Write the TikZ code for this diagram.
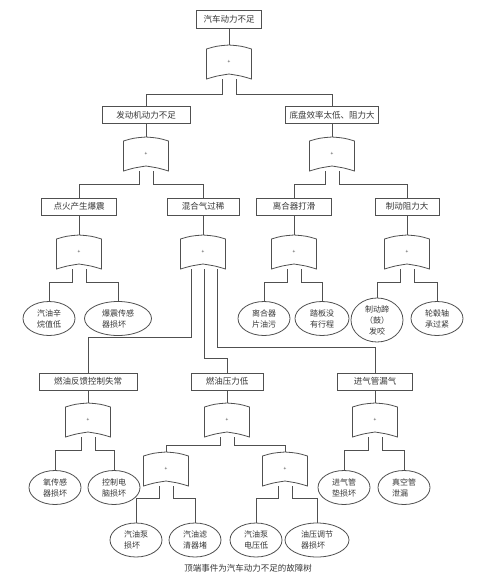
\documentclass[tikz,border=0pt]{standalone}
\usepackage{fontspec}
\setmainfont{Noto Sans CJK SC}
\usetikzlibrary{shapes.geometric,calc,backgrounds}
\definecolor{ln}{RGB}{80,80,80}
\definecolor{tx}{RGB}{55,55,55}
\tikzset{
  conn/.style={draw=ln, line width=0.8pt},
  evbox/.style={draw=ln, line width=0.8pt, rectangle, minimum height=17pt, inner sep=0pt, text=tx, font=\fontsize{8.5}{10}\selectfont},
  basic/.style={draw=ln, line width=0.8pt, ellipse, minimum width=52pt, minimum height=34pt, inner sep=0pt, text=tx, align=center, font=\fontsize{8}{11}\selectfont},
  gate/.style={minimum width=45pt, minimum height=34pt, inner sep=0pt, text=tx, font=\fontsize{5}{5}\selectfont},
  gateline/.style={draw=ln, line width=0.8pt, fill=white},
  caption/.style={text=tx, font=\fontsize{8.5}{10}\selectfont}
}
\newcommand\gatenode[3]{%
  \draw[gateline] (#2-22.5,#3+4) .. controls (#2-12.5,#3+1) .. (#2,#3) .. controls (#2+12.5,#3+1) .. (#2+22.5,#3+4) -- (#2+22.5,#3+34) .. controls (#2+12.5,#3+31) .. (#2,#3+29) .. controls (#2-12.5,#3+31) .. (#2-22.5,#3+34) -- cycle;
  \node[gate] (#1) at (#2,#3+17) {+};}
\begin{document}
\begin{tikzpicture}[x=1pt,y=-1pt]
\begin{scope}[on background layer]
  \fill[white] (0,0) rectangle (500,581);
\end{scope}
\useasboundingbox (0,0) rectangle (500,581);

% events (boxes)
\node[evbox, minimum width=65pt, minimum height=18pt] (b0) at (229,19) {汽车动力不足};
\node[evbox, minimum width=88pt] (b11) at (146,115) {发动机动力不足};
\node[evbox, minimum width=93pt] (b12) at (332,115) {底盘效率太低、阻力大};
\node[evbox, minimum width=75pt] (b21) at (79,206.5) {点火产生爆震};
\node[evbox, minimum width=72pt] (b22) at (203,206.5) {混合气过稀};
\node[evbox, minimum width=75pt] (b23) at (294,206.5) {离合器打滑};
\node[evbox, minimum width=64pt] (b24) at (407,206.5) {制动阻力大};
\node[evbox, minimum width=98pt] (b31) at (88,381.5) {燃油反馈控制失常};
\node[evbox, minimum width=72pt] (b32) at (227,381.5) {燃油压力低};
\node[evbox, minimum width=75pt] (b33) at (375,381.5) {进气管漏气};

% gates
\gatenode{g0}{229}{45}
\gatenode{g11}{146}{137}
\gatenode{g12}{332}{137}
\gatenode{g21}{79}{235}
\gatenode{g22}{203}{235}
\gatenode{g23}{294}{235}
\gatenode{g24}{407}{235}
\gatenode{g31}{88}{403}
\gatenode{g32}{227}{403}
\gatenode{g33}{375}{403}
\gatenode{g41}{166}{452}
\gatenode{g42}{285}{452}

% basic events
\node[basic] (e1) at (49,318.5) {汽油辛\\烷值低};
\node[basic, minimum width=67pt, align=left] (e2) at (118,318.5) {爆震传感\\器损坏};
\node[basic] (e3) at (264,318.5) {离合器\\片油污};
\node[basic, minimum width=54pt] (e4) at (322,318.5) {踏板没\\有行程};
\node[basic, minimum height=44pt] (e5) at (377,320) {制动蹄\\（鼓）\\发咬};
\node[basic] (e6) at (437,318.5) {轮毂轴\\承过紧};
\node[basic] (e7) at (55,487.5) {氧传感\\器损坏};
\node[basic] (e8) at (114,487.5) {控制电\\脑损坏};
\node[basic] (e9) at (344,487.5) {进气管\\垫损坏};
\node[basic, align=left] (e10) at (404,487.5) {真空管\\泄漏};
\node[basic, align=left] (e11) at (136,540) {汽油泵\\损坏};
\node[basic] (e12) at (195,540) {汽油滤\\清器堵};
\node[basic] (e13) at (256,540) {汽油泵\\电压低};
\node[basic, minimum width=64pt, align=left] (e14) at (317,540) {油压调节\\器损坏};

\node[caption] (cap) at (248,568) {顶端事件为汽车动力不足的故障树};

% connectors
\begin{scope}[on background layer]
  \foreach \b/\g in {b0/g0, b11/g11, b12/g12, b21/g21, b22/g22, b23/g23, b24/g24, b31/g31, b32/g32, b33/g33}
    \draw[conn] (\b.south) -- (\g.north);
  \draw[conn] ($(g0.south)+(-7,0)$) -- ++(0,15) -| (b11.north);
  \draw[conn] ($(g0.south)+(7,0)$) -- ++(0,15) -| (b12.north);
  \draw[conn] ($(g11.south)+(-7,0)$) -- ++(0,13) -| (b21.north);
  \draw[conn] ($(g11.south)+(7,0)$) -- ++(0,13) -| (b22.north);
  \draw[conn] ($(g12.south)+(-7,0)$) -- ++(0,13) -| (b23.north);
  \draw[conn] ($(g12.south)+(7,0)$) -- ++(0,13) -| (b24.north);
  \draw[conn] ($(g21.south)+(-7,0)$) -- ++(0,13) -| (e1.north);
  \draw[conn] ($(g21.south)+(7,0)$) -- ++(0,13) -| (e2.north);
  \draw[conn] ($(g23.south)+(-7,0)$) -- ++(0,13) -| (e3.north);
  \draw[conn] ($(g23.south)+(7,0)$) -- ++(0,13) -| (e4.north);
  \draw[conn] ($(g24.south)+(-7,0)$) -- ++(0,13) -| (e5.north);
  \draw[conn] ($(g24.south)+(7,0)$) -- ++(0,13) -| (e6.north);
  \draw[conn] ($(g22.south)+(-12,0)$) |- ($(b31.north)+(0,-35)$) -- (b31.north);
  \draw[conn] ($(g22.south)+(1,0)$) |- ($(b32.north)+(0,-14)$) -- (b32.north);
  \draw[conn] ($(g22.south)+(14,0)$) |- ($(b33.north)+(0,-25)$) -- (b33.north);
  \draw[conn] ($(g31.south)+(-7,0)$) -- ++(0,13) -| (e7.north);
  \draw[conn] ($(g31.south)+(7,0)$) -- ++(0,13) -| (e8.north);
  \draw[conn] ($(g33.south)+(-7,0)$) -- ++(0,13) -| (e9.north);
  \draw[conn] ($(g33.south)+(7,0)$) -- ++(0,13) -| (e10.north);
  \draw[conn] ($(g32.south)+(-7,0)$) -- ++(0,8) -| (g41.north);
  \draw[conn] ($(g32.south)+(7,0)$) -- ++(0,8) -| (g42.north);
  \draw[conn] ($(g41.south)+(-7,0)$) -- ++(0,12) -| (e11.north);
  \draw[conn] ($(g41.south)+(7,0)$) -- ++(0,12) -| (e12.north);
  \draw[conn] ($(g42.south)+(-7,0)$) -- ++(0,12) -| (e13.north);
  \draw[conn] ($(g42.south)+(7,0)$) -- ++(0,12) -| (e14.north);
\end{scope}
\end{tikzpicture}
\end{document}
